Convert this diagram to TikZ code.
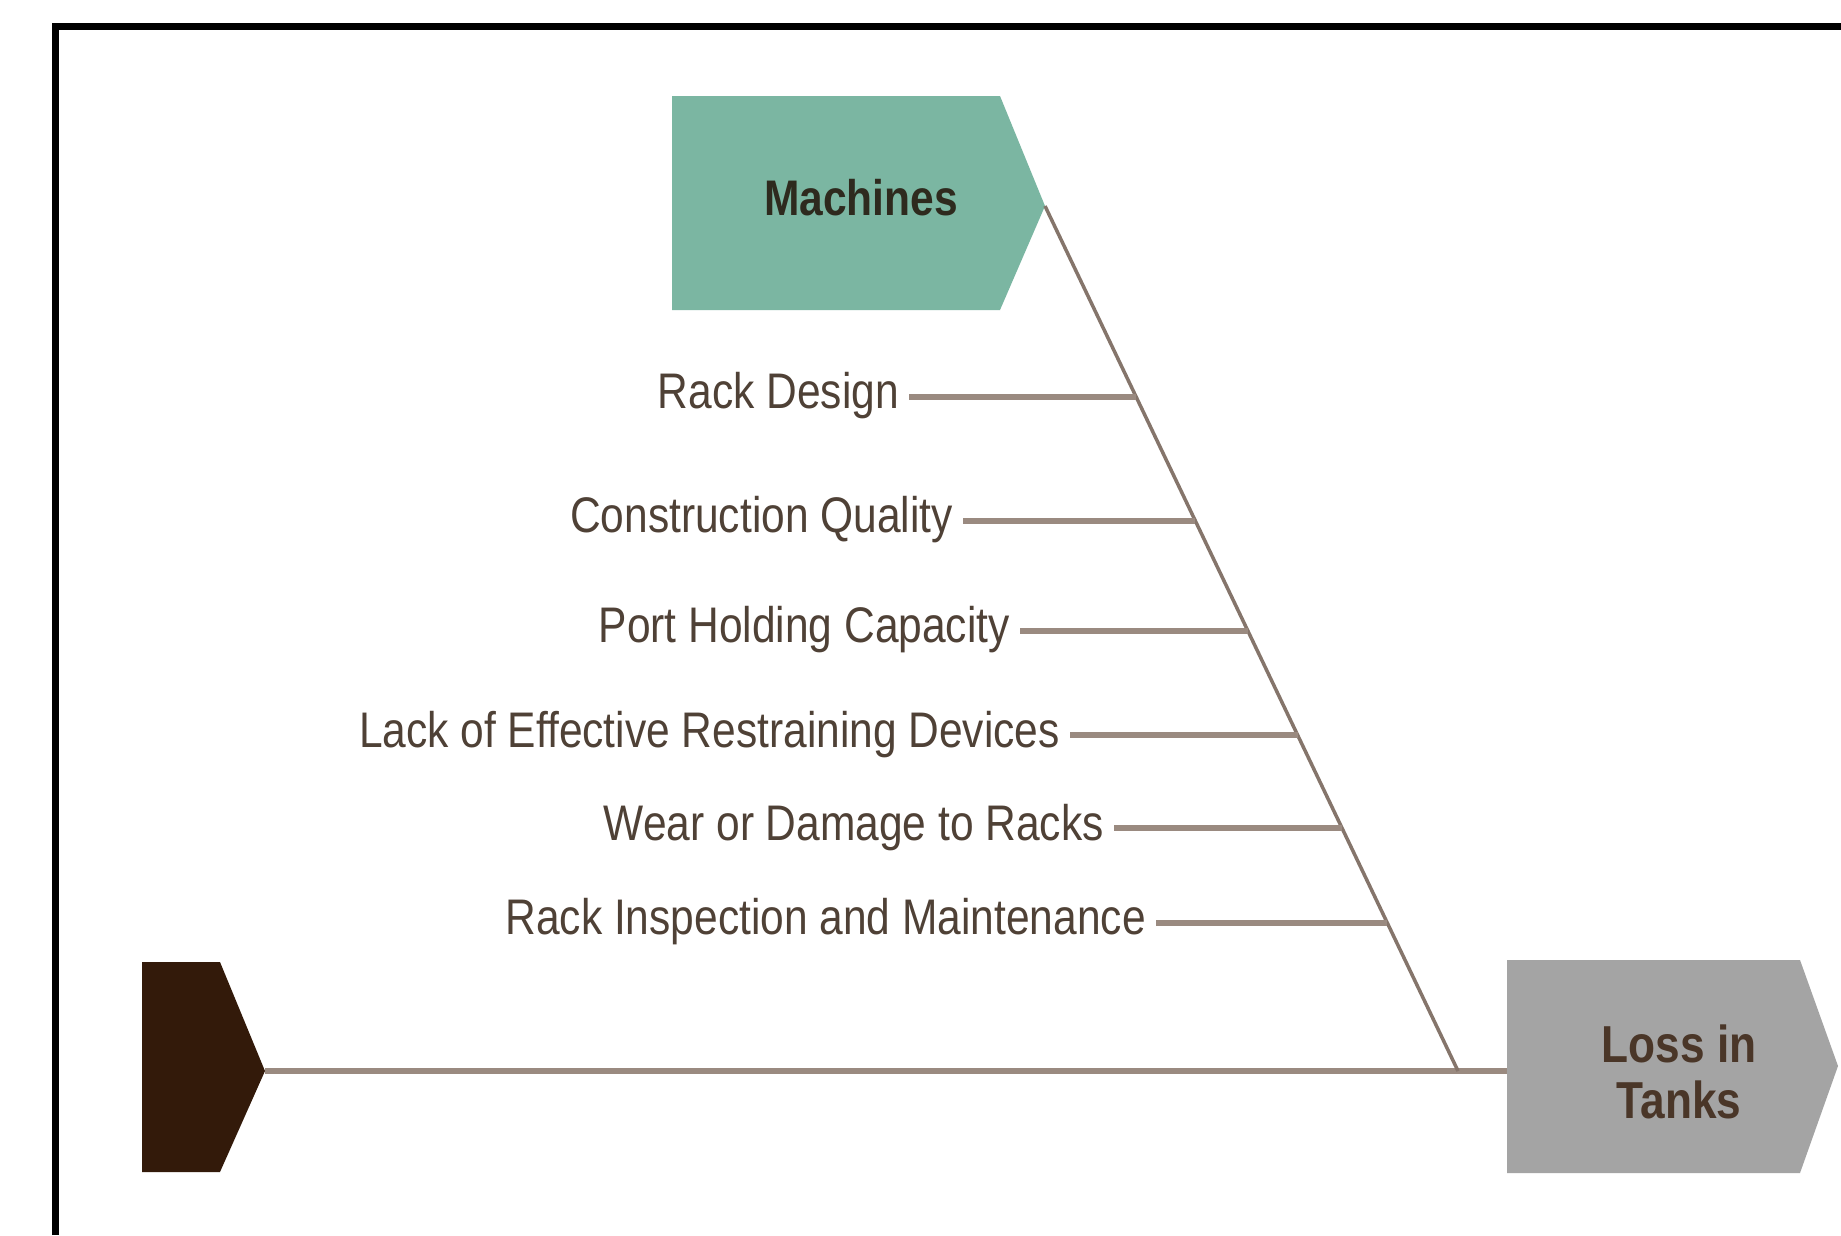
\documentclass[tikz,border=0pt]{standalone}
\usepackage{fontspec}
\setmainfont{Liberation Sans}[FakeStretch=0.85]
\usetikzlibrary{calc}

\definecolor{machgreen}{HTML}{7BB6A2}
\definecolor{lossgrey}{HTML}{A4A4A4}
\definecolor{tailbrown}{HTML}{331A0A}
\definecolor{spinec}{HTML}{9A8A80}
\definecolor{bonec}{HTML}{85756B}
\definecolor{labelc}{HTML}{4F4136}
\definecolor{machtext}{HTML}{2E2A1E}
\definecolor{losstext}{HTML}{4A3628}

\begin{document}
\begin{tikzpicture}[x=1pt,y=-1pt,
  frameline/.style={line width=7pt,draw=black},
  spine/.style={line width=6pt,draw=spinec},
  bone/.style={line width=3.5pt,draw=bonec},
  branch/.style={line width=6pt,draw=spinec},
  cause/.style={text=labelc,font=\fontsize{50}{54}\selectfont,
    inner xsep=10pt,inner ysep=0pt,anchor=base east},
  headtext/.style={font=\bfseries\fontsize{50}{54}\selectfont,
    text=machtext,inner sep=0pt,anchor=base},
  efftext/.style={font=\bfseries\fontsize{52}{56}\selectfont,
    text=losstext,inner sep=0pt,align=center}
]
\useasboundingbox (0,0) rectangle (1841,1235);
\fill[white] (0,0) rectangle (1841,1235);

% outer frame (runs off the right and bottom edges)
\draw[frameline] (55.5,1235) -- (55.5,26.5) -- (1841,26.5);

% key points of the skeleton
\coordinate (mtip) at (1045,206);
\coordinate (ttip) at (265,1071);
\coordinate (joint) at (1458,1071);
\coordinate (lwest) at (1507,1071);

% category, tail and effect heads
\fill[machgreen] (672,96) -- (1000,96) -- (mtip) -- (1000,310) -- (672,310) -- cycle;
\fill[tailbrown] (142,962) -- (220,962) -- (ttip) -- (220,1172) -- (142,1172) -- cycle;
\fill[lossgrey] (1507,960) -- (1800,960) -- (1838,1066) -- (1800,1173) -- (1507,1173) -- cycle;

\node[headtext] (mach) at (861,215) {Machines};
\node[efftext] (loss) at (1679,1072) {Loss in\\Tanks};

% main spine and category bone
\draw[spine] (ttip) -- (lwest);
\draw[bone] (mtip) -- (joint);

% points where the causes meet the bone
\coordinate (b1) at ($(mtip)!0.2206!(joint)$);
\coordinate (b2) at ($(mtip)!0.3637!(joint)$);
\coordinate (b3) at ($(mtip)!0.4908!(joint)$);
\coordinate (b4) at ($(mtip)!0.6120!(joint)$);
\coordinate (b5) at ($(mtip)!0.7194!(joint)$);
\coordinate (b6) at ($(mtip)!0.8291!(joint)$);

% causes
\node[cause] (c1) at (909,408) {Rack Design};
\node[cause] (c2) at (963,532) {Construction Quality};
\node[cause] (c3) at (1020,642) {Port Holding Capacity};
\node[cause] (c4) at (1070,747) {Lack of Effective Restraining Devices};
\node[cause] (c5) at (1114,840) {Wear or Damage to Racks};
\node[cause] (c6) at (1156,934) {Rack Inspection and Maintenance};

\draw[branch] (c1.east |- b1) -- (b1);
\draw[branch] (c2.east |- b2) -- (b2);
\draw[branch] (c3.east |- b3) -- (b3);
\draw[branch] (c4.east |- b4) -- (b4);
\draw[branch] (c5.east |- b5) -- (b5);
\draw[branch] (c6.east |- b6) -- (b6);
\end{tikzpicture}
\end{document}
